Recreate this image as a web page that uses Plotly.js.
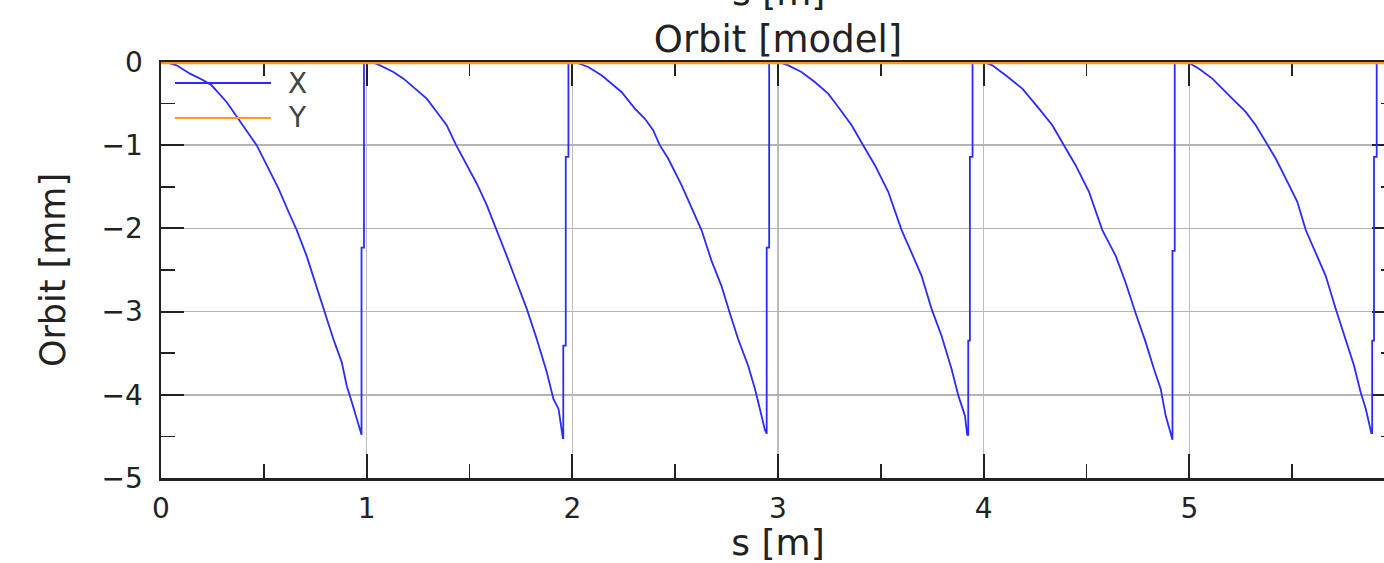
<!DOCTYPE html>
<html>
<head>
<meta charset="utf-8">
<script src="https://cdn.plot.ly/plotly-3.0.1.min.js"></script>
<style>
  html, body { margin: 0; padding: 0; overflow: hidden; background: #fff; }
  #chart { width: 1400px; height: 563px; }
</style>
</head>
<body>
<div id="chart"></div>
<script>
// ---- data (s in m, orbit in mm) ----
const s1 = [0, 0.036, 0.076, 0.141, 0.206, 0.246, 0.319, 0.376, 0.417, 0.465, 0.514, 0.571, 0.620, 0.660, 0.708, 0.749, 0.790, 0.838, 0.879, 0.903, 0.928, 0.952, 0.973, 0.975, 0.975, 0.987, 0.987];
const x1 = [0, -0.01, -0.04, -0.14, -0.22, -0.28, -0.48, -0.68, -0.82, -1.00, -1.24, -1.52, -1.80, -2.02, -2.33, -2.65, -2.97, -3.33, -3.61, -3.89, -4.09, -4.30, -4.48, -4.48, -2.23, -2.23, 0];

const s2 = [1.025, 1.065, 1.130, 1.179, 1.244, 1.292, 1.341, 1.389, 1.435, 1.487, 1.535, 1.584, 1.633, 1.681, 1.730, 1.779, 1.827, 1.876, 1.908, 1.933, 1.954, 1.956, 1.956, 1.968, 1.968, 1.981, 1.981];
const x2 = [0, -0.04, -0.12, -0.20, -0.34, -0.44, -0.60, -0.76, -1.00, -1.24, -1.46, -1.72, -2.02, -2.33, -2.65, -2.97, -3.33, -3.73, -4.05, -4.17, -4.52, -4.52, -3.41, -3.41, -1.14, -1.14, 0];

const s3 = [2.012, 2.077, 2.142, 2.239, 2.304, 2.352, 2.393, 2.425, 2.466, 2.531, 2.579, 2.628, 2.677, 2.725, 2.766, 2.806, 2.855, 2.888, 2.912, 2.936, 2.944, 2.945, 2.945, 2.957, 2.957];
const x3 = [0, -0.06, -0.16, -0.36, -0.56, -0.68, -0.82, -1.00, -1.16, -1.48, -1.74, -2.02, -2.39, -2.69, -3.02, -3.33, -3.65, -3.93, -4.17, -4.42, -4.46, -4.46, -2.23, -2.23, 0];

const s4 = [3.001, 3.050, 3.114, 3.179, 3.244, 3.293, 3.358, 3.414, 3.471, 3.536, 3.601, 3.649, 3.698, 3.747, 3.795, 3.844, 3.877, 3.909, 3.920, 3.925, 3.925, 3.933, 3.933, 3.946, 3.946];
const x4 = [0, -0.04, -0.12, -0.24, -0.38, -0.54, -0.76, -1.00, -1.24, -1.56, -2.02, -2.29, -2.57, -2.97, -3.29, -3.69, -4.01, -4.25, -4.48, -4.48, -3.35, -3.35, -1.14, -1.14, 0];

const s5 = [4.001, 4.042, 4.107, 4.188, 4.269, 4.334, 4.390, 4.447, 4.512, 4.577, 4.642, 4.690, 4.739, 4.788, 4.828, 4.861, 4.885, 4.917, 4.918, 4.918, 4.929, 4.929];
const x5 = [0, -0.04, -0.16, -0.32, -0.56, -0.76, -1.00, -1.24, -1.56, -2.02, -2.33, -2.65, -3.02, -3.37, -3.69, -3.93, -4.25, -4.54, -4.54, -2.27, -2.27, 0];

const s6 = [4.990, 5.047, 5.112, 5.193, 5.274, 5.323, 5.379, 5.420, 5.477, 5.525, 5.566, 5.614, 5.663, 5.712, 5.760, 5.801, 5.833, 5.858, 5.885, 5.889, 5.889, 5.898, 5.898, 5.911, 5.911, 6.0];
const x6 = [0, -0.08, -0.20, -0.40, -0.60, -0.76, -1.00, -1.16, -1.44, -1.68, -2.02, -2.29, -2.57, -2.97, -3.33, -3.65, -3.97, -4.17, -4.46, -4.46, -3.35, -3.35, -1.14, -1.14, 0, 0];

const sY = [0, 6.0];
const orbitY = [0, 0];

const seriesNames = ['X', 'Y'];
const seriesColors = ['#2b2bff', '#ff961e'];

const sX = [].concat(s1, s2, s3, s4, s5, s6);
const orbitX = [].concat(x1, x2, x3, x4, x5, x6);

const FONT = 'DejaVu Sans';
const INK = '#222';

const traces = [
  { x: sX, y: orbitX, type: 'scatter', mode: 'lines', name: seriesNames[0],
    line: { color: seriesColors[0], width: 1.8 }, showlegend: false },
  { x: sY, y: orbitY, type: 'scatter', mode: 'lines', name: seriesNames[1],
    line: { color: seriesColors[1], width: 4.5 }, showlegend: false }
];

// legend drawn as long sample lines (paper coords)
const legY = [0.9495, 0.8654];
const shapes = seriesNames.map((n, i) => ({
  type: 'line', xref: 'paper', yref: 'paper',
  x0: 0.0113, x1: 0.0891, y0: legY[i], y1: legY[i],
  line: { color: seriesColors[i], width: 2 }
}));
const annotations = seriesNames.map((n, i) => ({
  text: n, xref: 'paper', yref: 'paper', x: 0.101, y: legY[i],
  xanchor: 'left', yanchor: 'middle', showarrow: false,
  font: { family: FONT, size: 28, color: '#444' }
}));
// axis title of the panel above, cut by the top edge as in the reference
annotations.push({
  text: 's [m]', xref: 'paper', yref: 'paper', x: 0.5, y: 1.168,
  xanchor: 'center', yanchor: 'middle', showarrow: false,
  font: { family: FONT, size: 36, color: INK }
});

const layout = {
  width: 1400, height: 563,
  margin: { l: 161, r: 5, t: 62, b: 85 },
  paper_bgcolor: '#fff', plot_bgcolor: '#fff',
  font: { family: FONT, color: INK },
  title: { text: 'Orbit [model]', font: { family: FONT, size: 37, color: INK },
           x: 0.5, xref: 'paper', xanchor: 'center', y: 0.93, yref: 'container', yanchor: 'middle' },
  xaxis: {
    range: [0, 6], dtick: 1, tick0: 0,
    ticks: 'inside', ticklen: 24, tickwidth: 2, tickcolor: INK,
    showline: true, linecolor: INK, linewidth: 2.5, mirror: 'ticks',
    showgrid: true, gridcolor: '#bdbdbd', gridwidth: 1.5, zeroline: false,
    layer: 'below traces',
    tickfont: { family: FONT, size: 28, color: INK },
    ticklabelstandoff: 4,
    minor: { dtick: 0.5, ticks: 'inside', ticklen: 14, tickwidth: 1.5, tickcolor: INK, showgrid: false },
    title: { text: 's [m]', font: { family: FONT, size: 36, color: INK }, standoff: 4 },
    automargin: false
  },
  yaxis: {
    range: [-5, 0], dtick: 1, tick0: 0,
    ticks: 'inside', ticklen: 23, tickwidth: 2, tickcolor: INK,
    showline: true, linecolor: INK, linewidth: 2.5, mirror: 'ticks',
    showgrid: true, gridcolor: '#b4b4b4', gridwidth: 1.5, zeroline: false,
    layer: 'below traces',
    tickfont: { family: FONT, size: 28, color: INK },
    ticklabelstandoff: 10,
    minor: { dtick: 0.5, ticks: 'inside', ticklen: 14, tickwidth: 1.5, tickcolor: INK, showgrid: false },
    title: { text: 'Orbit [mm]', font: { family: FONT, size: 35, color: INK }, standoff: 26 },
    automargin: false
  },
  shapes: shapes,
  annotations: annotations,
  showlegend: false
};

Plotly.newPlot('chart', traces, layout, { displayModeBar: false, staticPlot: true });
</script>
</body>
</html>
